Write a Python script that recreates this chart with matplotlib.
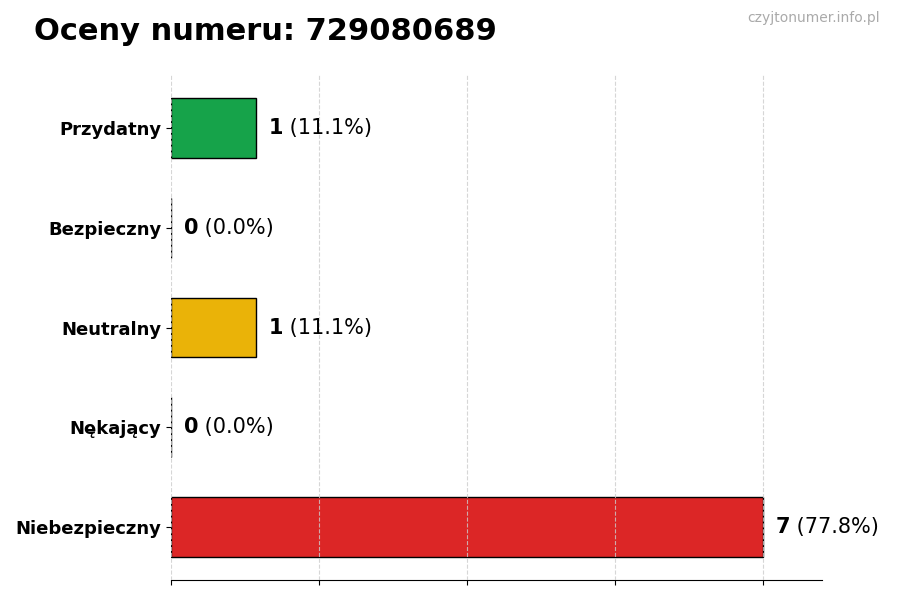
import matplotlib
matplotlib.use("Agg")
import matplotlib.pyplot as plt
import numpy as np

categories = ["Niebezpieczny", "Nękający", "Neutralny", "Bezpieczny", "Przydatny"]
counts = [7, 0, 1, 0, 1]
colors = ["#dc2626", "#6b7280", "#eab308", "#3b82f6", "#16a34a"]
title = "Oceny numeru: 729080689"
watermark = "czyjtonumer.info.pl"

total = sum(counts)
max_count = max(counts)

fig = plt.figure(figsize=(9, 6), dpi=100)
ax = fig.add_axes([0.19, 0.0333, 0.7233, 0.8417])

y = np.arange(len(categories))
ax.barh(y, counts, height=0.6, color=colors, edgecolor="black", linewidth=1, zorder=1)
ax.set_yticks(y)
ax.set_yticklabels(categories, fontsize=13, fontweight="bold")
ax.set_xlim(0, max_count * 1.1)
ax.set_xticks(np.linspace(0, max_count, 5))
ax.set_xticklabels([])
ax.grid(axis="x", linestyle="--", color="#cccccc", alpha=0.8, zorder=3)
ax.set_axisbelow(False)
for s in ("top", "right", "left"):
    ax.spines[s].set_visible(False)

for yi, c in zip(y, counts):
    pct = c / total * 100
    t = ax.text(c + 0.15, yi, str(c), fontsize=15, fontweight="bold",
                va="center", ha="left")
    ax.annotate(f" ({pct:.1f}%)", xy=(1, 0.5), xycoords=t, fontsize=15,
                va="center", ha="left")

fig.text(0.038, 0.948, title, fontsize=22, fontweight="bold", va="center", ha="left")
fig.text(0.978, 0.97, watermark, fontsize=10, color="#aaaaaa", va="center", ha="right")

fig.savefig("out.png", dpi=100)
